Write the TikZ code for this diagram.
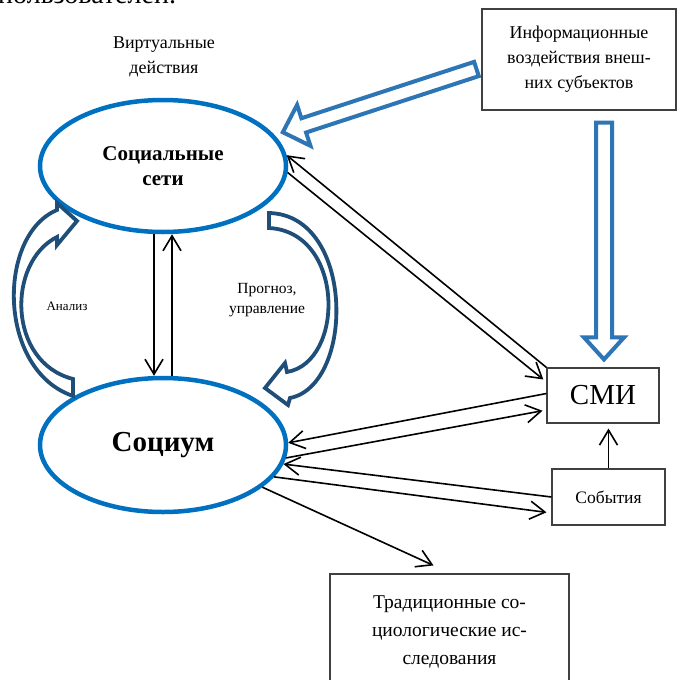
\documentclass[tikz,border=0pt]{standalone}
\usepackage{fontspec}
\setmainfont{Liberation Serif}
\usetikzlibrary{arrows.meta, positioning, shapes.geometric, calc}
\definecolor{netBlue}{RGB}{0,112,192}
\definecolor{infoBlue}{RGB}{46,117,182}
\definecolor{cycleBlue}{RGB}{31,78,121}
\definecolor{boxGray}{RGB}{64,64,64}
\tikzset{
    netellipse/.style={
        ellipse,
        draw=netBlue,
        line width=4.5pt,
        fill=white,
        align=center,
        inner sep=0pt,
        minimum width=246pt,
        minimum height=132pt,
        font=\bfseries\fontsize{21}{25}\selectfont
    },
    textbox/.style={
        rectangle,
        draw=boxGray,
        line width=1.1pt,
        fill=white,
        align=center,
        font=\fontsize{18}{25}\selectfont
    },
    plaintext/.style={align=center, font=\fontsize{18}{25}\selectfont},
    linkarrow/.style={-{Straight Barb[length=15pt,width=18pt]}, line width=1.6pt, draw=black},
    hollowblue/.style={draw=infoBlue, line width=4pt, fill=white, line join=miter},
    cyclearrow/.style={draw=cycleBlue, line width=3.8pt, fill=white, line join=miter}
}
\newcommand{\blockarrow}[6]{%
    \coordinate (hb) at ($(#3)!#6!(#2)$);
    \draw[#1] ($(#2)!#4!90:(#3)$) -- ($(hb)!#4!90:(#3)$) -- ($(hb)!#5!90:(#3)$) -- (#3)
        -- ($(hb)!#5!-90:(#3)$) -- ($(hb)!#4!-90:(#3)$) -- ($(#2)!#4!-90:(#3)$) -- cycle;
}

\begin{document}
\begin{tikzpicture}[x=1pt, y=-1pt]
    \path[use as bounding box, fill=white] (0,0) rectangle (677,680);
    \node[anchor=base west, inner sep=0pt, font=\fontsize{28}{30}\selectfont] (topline) at (-2,4) {пользователей.};
    \node[plaintext] (virt) at (164,57) {Виртуальные\\действия};
    \node[netellipse] (seti) at (163,166) {Социальные\\сети};
    \node[netellipse, minimum height=134pt, font=\bfseries\fontsize{29}{30}\selectfont] (socium) at (163,445) {Социум};
    \node[textbox, minimum width=194pt, minimum height=101pt] (vliyanie) at (579,59.5) {Информационные\\воздействия внеш-\\них субъектов};
    \node[textbox, minimum width=112pt, minimum height=55pt, font=\fontsize{29}{30}\selectfont] (smi) at (603,395.5) {СМИ};
    \node[textbox, minimum width=113pt, minimum height=56pt, font=\fontsize{17.5}{20}\selectfont] (sobytiya) at (608.5,497) {События};
    \node[textbox, minimum width=239pt, minimum height=116pt, font=\fontsize{19.5}{28}\selectfont] (tradic) at (449.5,632) {Традиционные со-\\циологические ис-\\следования};
    \node[plaintext, font=\fontsize{13}{15}\selectfont] (analiz) at (67,306) {Анализ};
    \node[plaintext, font=\fontsize{15.5}{20}\selectfont] (prognoz) at (267,300) {Прогноз,\\управление};

    \draw[cyclearrow] (57,210) .. controls (-3,235) and (-3,370) .. (73,396) -- (73,379)
        .. controls (7,362) and (7,262) .. (57,237) -- (57,245) -- (77,221) -- (57,203) -- cycle;
    \draw[cyclearrow] (269,213) .. controls (355,215) and (355,385) .. (290,398) -- (288,405)
        -- (265,388) -- (285,363) -- (287,372) .. controls (345,362) and (345,232) .. (269,228) -- cycle;

    \coordinate (vstart) at ($(vliyanie.west)+(-5,9.5)$);
    \coordinate (vtip) at ($(seti.16)+(9,-2)$);
    \blockarrow{hollowblue}{vstart}{vtip}{7.5pt}{21.5pt}{22pt}
    \coordinate (mstart) at ($(vliyanie.south -| smi.north)+(1,12)$);
    \coordinate (mtip) at ($(smi.north)+(1,-8)$);
    \blockarrow{hollowblue}{mstart}{mtip}{8pt}{20pt}{22pt}

    \draw[linkarrow] ([xshift=-9pt]seti.south) -- ([xshift=-9pt]socium.north);
    \draw[linkarrow] ([xshift=9pt]socium.north) -- ([xshift=9pt]seti.south);
    \draw[linkarrow] (smi.north west) -- (seti.5);
    \draw[linkarrow, shorten >=4pt] (seti.-3) -- ([yshift=13.5pt]smi.west);
    \draw[linkarrow] ([yshift=2pt]smi.west) -- (socium.1);
    \draw[linkarrow, shorten >=4pt] (socium.-6) -- ([yshift=-14.5pt]smi.west);
    \draw[linkarrow] (sobytiya.west) -- (socium.-9);
    \draw[linkarrow, shorten >=5pt] (socium.-16) -- ([yshift=-16pt]sobytiya.west);
    \draw[linkarrow] (socium.-23) -- ([xshift=-16pt,yshift=8pt]tradic.north);
    \draw[linkarrow, shorten >=5pt] (sobytiya.north) -- (sobytiya.north |- smi.south);
\end{tikzpicture}
\end{document}
